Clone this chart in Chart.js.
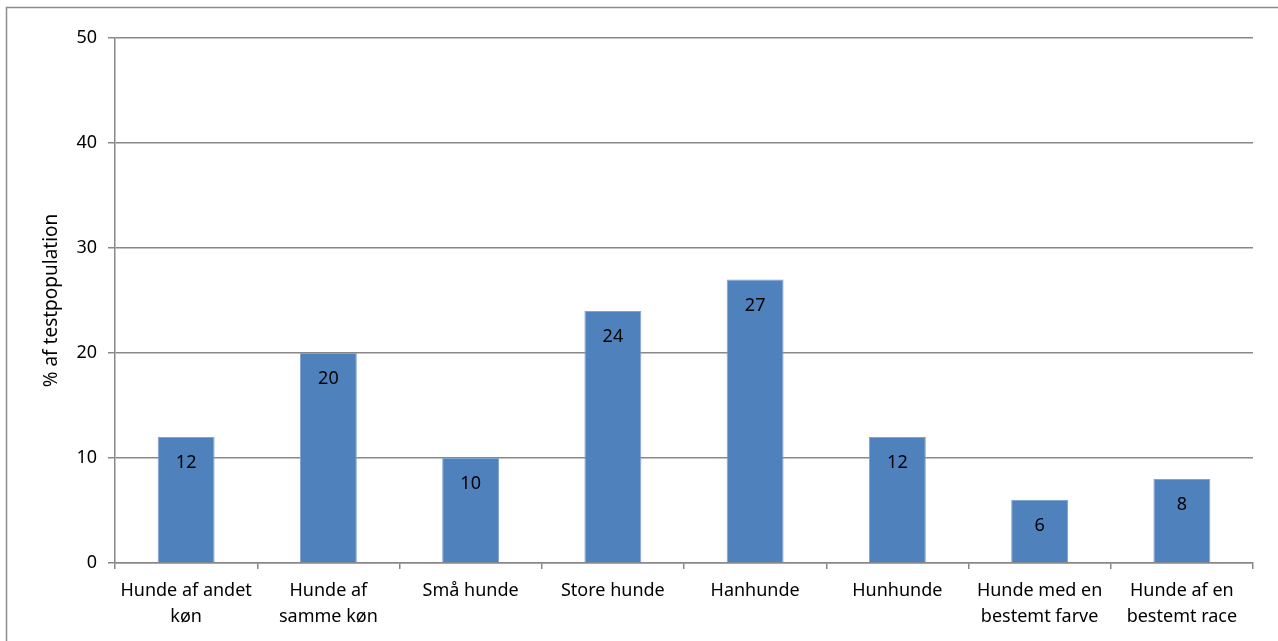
<!DOCTYPE html>
<html>
<head>
<meta charset="utf-8">
<script src="https://cdn.jsdelivr.net/npm/chart.js@4/dist/chart.umd.min.js"></script>
<style>
  html, body { margin: 0; padding: 0; background: #fff; }
  #wrap { width: 1278px; height: 641px; position: relative; }
</style>
</head>
<body>
<div id="wrap"><canvas id="chart" width="1278" height="641"></canvas></div>
<script>
// categories (x axis), wrapped like the original
var categories = [
    ["Hunde af andet", "køn"],
    ["Hunde af", "samme køn"],
    "Små hunde",
    "Store hunde",
    "Hanhunde",
    "Hunhunde",
    ["Hunde med en", "bestemt farve"],
    ["Hunde af en", "bestemt race"]
];
var percentValues = [12, 20, 10, 24, 27, 12, 6, 8];
var yTicks = [0, 10, 20, 30, 40, 50];
var yTitle = "% af testpopulation";

var FONT = "'Noto Sans', 'Open Sans', sans-serif";
var GRID = "#888888";

// grey frame around the chart area (cut off at right/bottom like the source)
var framePlugin = {
    id: "frame",
    beforeDraw: function(chart) {
        var ctx = chart.ctx;
        ctx.save();
        ctx.strokeStyle = "#8c8c8c";
        ctx.lineWidth = 1.5;
        ctx.strokeRect(6.5, 7.5, 1400, 800);
        ctx.restore();
    }
};

// value labels inside the top of every bar
var valueLabels = {
    id: "valueLabels",
    afterDatasetsDraw: function(chart) {
        var ctx = chart.ctx;
        var meta = chart.getDatasetMeta(0);
        ctx.save();
        ctx.font = "18px " + FONT;
        ctx.fillStyle = "#000";
        ctx.textAlign = "center";
        ctx.textBaseline = "middle";
        meta.data.forEach(function(bar, i) {
            ctx.fillText(String(percentValues[i]), bar.x, bar.y + 26);
        });
        ctx.restore();
    }
};

new Chart(document.getElementById("chart"), {
    type: "bar",
    data: {
        labels: categories,
        datasets: [{
            data: percentValues,
            backgroundColor: "#4f81bd",
            borderColor: "#7fa3d3",
            borderWidth: 1,
            categoryPercentage: 1,
            barPercentage: 0.4
        }]
    },
    options: {
        responsive: false,
        animation: false,
        layout: { padding: { left: 40, top: 38, right: 25, bottom: 0 } },
        plugins: {
            legend: { display: false },
            tooltip: { enabled: false }
        },
        scales: {
            x: {
                offset: true,
                grid: {
                    offset: true,
                    drawOnChartArea: false,
                    drawTicks: true,
                    tickLength: 6,
                    color: GRID,
                    lineWidth: 1.5
                },
                border: { color: GRID, width: 1.5 },
                ticks: {
                    color: "#000",
                    font: { family: FONT, size: 18, lineHeight: 1.45 },
                    maxRotation: 0,
                    autoSkip: false,
                    padding: 9
                },
                afterFit: function(s) { s.height = 78; }
            },
            y: {
                min: 0,
                max: 50,
                afterBuildTicks: function(s) {
                    s.ticks = yTicks.map(function(v) { return { value: v }; });
                },
                grid: {
                    color: GRID,
                    lineWidth: 1.5,
                    tickLength: 7
                },
                border: { color: GRID, width: 1.5 },
                ticks: {
                    color: "#000",
                    font: { family: FONT, size: 18 },
                    padding: 11
                },
                title: {
                    display: true,
                    text: yTitle,
                    color: "#000",
                    font: { family: FONT, size: 19 },
                    padding: 0
                },
                afterFit: function(s) { s.width = 75; }
            }
        }
    },
    plugins: [framePlugin, valueLabels]
});
</script>
</body>
</html>
